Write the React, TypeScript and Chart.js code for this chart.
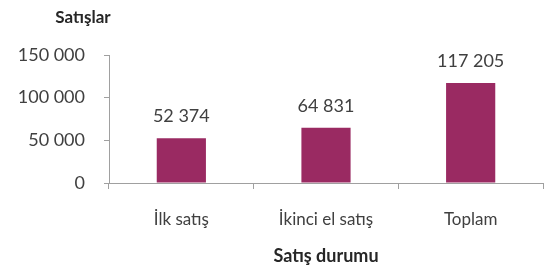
import React, { useEffect, useRef } from "react";
import { Chart, registerables } from "chart.js";

Chart.register(...registerables);

const categories = ["İlk satış", "İkinci el satış", "Toplam"];
const sales = [52374, 64831, 117205];
const yTicks = [0, 50000, 100000, 150000];
const yTitle = "Satışlar";
const xTitle = "Satış durumu";

const FONT = "Lato, 'Open Sans', sans-serif";
const fmt = (v: number) => String(v).replace(/\B(?=(\d{3})+(?!\d))/g, " ");

const labelsPlugin = {
  id: "barLabels",
  afterDatasetsDraw(chart: any) {
    const ctx = chart.ctx;
    const meta = chart.getDatasetMeta(0);
    ctx.save();
    ctx.font = `18px ${FONT}`;
    ctx.fillStyle = "#404040";
    ctx.textAlign = "center";
    ctx.textBaseline = "alphabetic";
    meta.data.forEach((bar: any, i: number) => {
      ctx.fillText(fmt(sales[i]), bar.x, bar.y - 16);
    });
    ctx.restore();
  },
};

const yTitlePlugin = {
  id: "yTitle",
  afterDraw(chart: any) {
    const ctx = chart.ctx;
    const area = chart.chartArea;
    ctx.save();
    ctx.font = `bold 17px ${FONT}`;
    ctx.fillStyle = "#262626";
    ctx.textAlign = "center";
    ctx.textBaseline = "middle";
    ctx.fillText(yTitle, area.left - 26, area.top - 37);
    ctx.restore();
  },
};

export default function App() {
  const ref = useRef<HTMLCanvasElement>(null);
  useEffect(() => {
    if (!ref.current) return;
    const chart = new Chart(ref.current, {
      type: "bar",
      data: {
        labels: categories,
        datasets: [
          {
            data: sales,
            backgroundColor: "#9A2A62",
            borderWidth: 0,
            barPercentage: 0.34,
            categoryPercentage: 1,
          },
        ],
      },
      options: {
        animation: false,
        responsive: false,
        maintainAspectRatio: false,
        layout: { padding: { top: 55, right: 7, left: 0, bottom: 0 } },
        plugins: {
          legend: { display: false },
          tooltip: { enabled: false },
        },
        scales: {
          x: {
            grid: {
              drawOnChartArea: false,
              offset: true,
              tickLength: 6,
              color: "#A0A0A0",
            },
            border: { color: "#A0A0A0", width: 1 },
            ticks: {
              font: { family: FONT, size: 17 },
              color: "#404040",
              padding: 20,
            },
            title: {
              display: true,
              text: xTitle,
              font: { family: FONT, size: 18, weight: "bold" },
              color: "#262626",
              padding: { top: 0, bottom: 6 },
            },
            afterFit(scale: any) {
              scale.height = 90;
            },
          },
          y: {
            min: 0,
            max: 150000,
            afterBuildTicks(scale: any) {
              scale.ticks = yTicks.map((v) => ({ value: v }));
            },
            grid: {
              drawOnChartArea: false,
              tickLength: 5,
              color: "#A0A0A0",
            },
            border: { color: "#A0A0A0", width: 1 },
            ticks: {
              font: { family: FONT, size: 18 },
              color: "#404040",
              padding: 19,
              callback: (v: any) => fmt(Number(v)),
            },
            afterFit(scale: any) {
              scale.width = 109;
            },
          },
        },
      },
      plugins: [labelsPlugin, yTitlePlugin],
    });
    return () => chart.destroy();
  }, []);
  return (
    <div style={{ position: "absolute", left: 0, top: 0, width: 550, height: 273, background: "#fff" }}>
      <canvas ref={ref} width={550} height={273} style={{ width: 550, height: 273 }} />
    </div>
  );
}
